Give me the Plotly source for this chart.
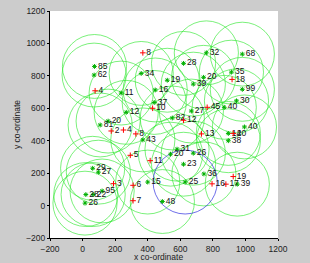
import plotly.graph_objects as go

# Sensor nodes (green *, with range circles)
green_labels = ["85", "62", "34", "11", "12", "81", "20", "32", "68", "28", "35", "19",
                "20", "39", "99", "16", "37", "30", "40", "27", "82", "40", "43", "14",
                "38", "31", "20", "26", "23", "15", "36", "39", "48", "29", "27", "28",
                "22", "26", "95"]
green_x = [73, 71, 360, 237, 268, 108, 157, 760, 981, 620, 914, 520,
           743, 680, 981, 446, 440, 945, 870, 668, 551, 994, 370, 895,
           895, 580, 540, 680, 620, 400, 745, 950, 490, 62, 97, 20,
           65, 15, 120]
green_y = [858, 805, 815, 694, 575, 497, 521, 942, 934, 877, 823, 773,
           791, 749, 717, 713, 636, 646, 606, 583, 540, 485, 405, 445,
           400, 348, 317, 323, 255, 145, 195, 132, 25, 230, 206, 68,
           68, 15, 90]

# Highlighted node (blue range circle)
blue_labels = ["25"]
blue_x = [630]
blue_y = [145]

# Other nodes (red +, no circles)
red_labels = ["8", "4", "10", "18", "45", "12", "13", "20", "2", "4", "8", "5",
              "3", "6", "7", "11", "16", "17", "19"]
red_x = [370, 77, 430, 918, 765, 620, 730, 925, 176, 251, 327, 293,
         190, 310, 310, 415, 795, 880, 925]
red_y = [942, 708, 600, 778, 606, 526, 442, 445, 460, 466, 442, 310,
         135, 125, 30, 277, 134, 132, 179]

RANGE = 197
tick_vals = [-200, 0, 200, 400, 600, 800, 1000, 1200]

fig = go.Figure()

shapes = []
for cx, cy in zip(green_x, green_y):
    shapes.append(dict(type="circle", xref="x", yref="y",
                       x0=cx - RANGE, x1=cx + RANGE, y0=cy - RANGE, y1=cy + RANGE,
                       line=dict(color="#22e622", width=0.6), layer="below"))
for cx, cy in zip(blue_x, blue_y):
    shapes.append(dict(type="circle", xref="x", yref="y",
                       x0=cx - RANGE, x1=cx + RANGE, y0=cy - RANGE, y1=cy + RANGE,
                       line=dict(color="#3030e0", width=0.7), layer="below"))

font_txt = dict(family="Liberation Sans, Arial, sans-serif", size=8.5, color="#111111")

fig.add_trace(go.Scatter(x=green_x + blue_x, y=green_y + blue_y, mode="markers+text",
                         text=green_labels + blue_labels, textposition="middle right",
                         textfont=font_txt,
                         marker=dict(symbol="asterisk-open", size=4, color="#00b000",
                                     line=dict(color="#00b000", width=1)),
                         showlegend=False, cliponaxis=False))
fig.add_trace(go.Scatter(x=red_x, y=red_y, mode="markers+text",
                         text=red_labels, textposition="middle right",
                         textfont=font_txt,
                         marker=dict(symbol="cross-thin-open", size=4, color="#ff0000",
                                     line=dict(color="#ff0000", width=1)),
                         showlegend=False, cliponaxis=False))

axis_font = dict(family="Liberation Sans, Arial, sans-serif", size=8.5, color="#222222")
common = dict(range=[-200, 1200], tickvals=tick_vals, showgrid=False, zeroline=False,
              showline=True, linecolor="#000000", linewidth=1,
              ticks="outside", ticklen=2, tickcolor="#000000",
              tickfont=axis_font, automargin=False)

fig.update_layout(
    width=310, height=263,
    margin=dict(l=50, r=32, t=11, b=25),
    paper_bgcolor="#cccccc", plot_bgcolor="#ffffff",
    shapes=shapes,
    xaxis=dict(**common, ticklabelstandoff=1),
    yaxis=dict(**common, title=dict(text="y co-ordinate", font=axis_font, standoff=4)),
    annotations=[dict(text="x co-ordinate", xref="paper", yref="paper",
                      x=0.475, y=-0.085, xanchor="center", yanchor="middle",
                      showarrow=False, font=axis_font)],
)

fig.write_html("out.html")
